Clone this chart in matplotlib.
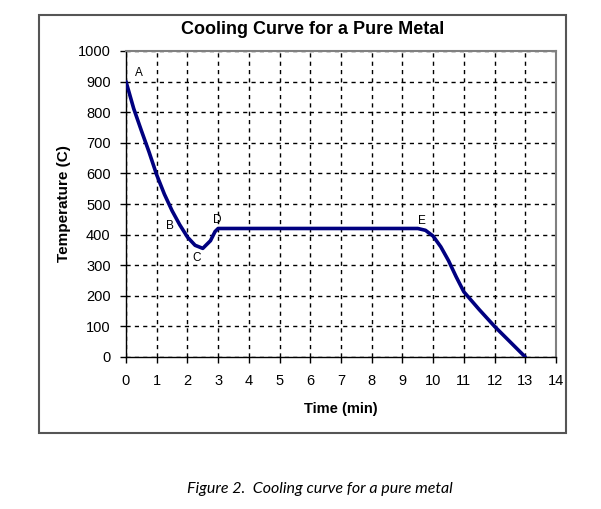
import matplotlib
matplotlib.use("Agg")
import matplotlib.pyplot as plt
from matplotlib.patches import Rectangle

time_min = [0, 0.25, 0.5, 0.75, 1.0, 1.25, 1.5, 1.75, 2.0, 2.25, 2.5, 2.75, 2.9, 3.0,
            4, 5, 6, 7, 8, 9, 9.5, 9.75, 10.0, 10.25, 10.5, 10.75, 11.0, 11.5, 12.0, 12.5, 13.0]
temp_c = [900, 812, 740, 670, 595, 532, 478, 432, 392, 365, 355, 380, 410, 420,
          420, 420, 420, 420, 420, 420, 420, 414, 395, 360, 315, 262, 213, 155, 100, 50, 0]

point_labels = ["A", "B", "C", "D", "E"]
label_x = [0.42, 1.43, 2.31, 2.96, 9.65]
label_y = [928, 428, 323, 448, 444]

x_ticks = list(range(0, 15))
y_ticks = list(range(0, 1001, 100))

plt.rcParams['font.family'] = ['Liberation Sans', 'DejaVu Sans']

fig = plt.figure(figsize=(6.01, 5.09), dpi=100)
ax = fig.add_axes([126/601, 1-357/509, (556-126)/601, (357-51)/509])

ax.plot(time_min, temp_c, color='#000080', lw=2.6, solid_capstyle='round', zorder=3)

for lab, lx, ly in zip(point_labels, label_x, label_y):
    ax.text(lx, ly, lab, fontsize=8.5, ha='center', va='center', color='black', zorder=4)

ax.set_xlim(0, 14)
ax.set_ylim(0, 1000)
ax.set_xticks(x_ticks)
ax.set_yticks(y_ticks)
ax.tick_params(axis='both', direction='out', length=4, width=1, labelsize=10.5, colors='black')
ax.tick_params(axis='x', pad=8)
ax.tick_params(axis='y', pad=7)
ax.grid(True, color='black', linestyle=(0, (3, 3)), linewidth=1)
for s in ['left', 'bottom']:
    ax.spines[s].set_color('black')
    ax.spines[s].set_linewidth(1)
for s in ['top', 'right']:
    ax.spines[s].set_color('#808080')
    ax.spines[s].set_linewidth(1.5)

ax.set_xlabel('Time (min)', fontsize=10.5, fontweight='bold', labelpad=10)
ax.set_ylabel('Temperature (C)', fontsize=11, fontweight='bold', labelpad=5)
fig.text(313/601, 1-29/509, 'Cooling Curve for a Pure Metal', fontsize=13, fontweight='bold',
         ha='center', va='center')

fig.patches.append(Rectangle((39/601, 1-433/509), (566-39)/601, (433-15)/509,
                             transform=fig.transFigure, fill=False, edgecolor='#555555', lw=1.5))

fig.text(320/601, 1-489/509, 'Figure 2.  Cooling curve for a pure metal', fontsize=11.5,
         style='italic', family=['Lato', 'DejaVu Sans'], ha='center', va='center')

fig.savefig('out.png', dpi=100)
